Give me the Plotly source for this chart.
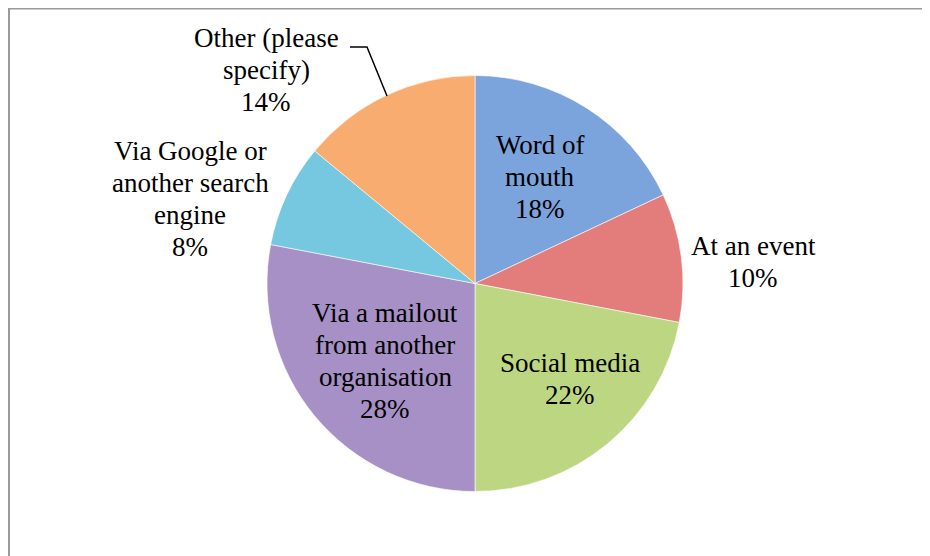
import plotly.graph_objects as go

labels = ["Word of mouth", "At an event", "Social media",
          "Via a mailout from another organisation",
          "Via Google or another search engine", "Other (please specify)"]
values = [18, 10, 22, 28, 8, 14]
colors = ["#7ba3dc", "#e27d7b", "#bdd681", "#a690c5", "#76c7e0", "#f9ac70"]

# label text as wrapped in the original chart
label_lines = [
    ["Word of", "mouth"],
    ["At an event"],
    ["Social media"],
    ["Via a mailout", "from another", "organisation"],
    ["Via Google or", "another search", "engine"],
    ["Other (please", "specify)"],
]
# label centres in screen pixels (x, y of the first line)
label_pos = [(540, 145), (753, 246), (570, 363), (385, 313), (190, 151), (266, 38)]

OFF = 8  # page body margin
W, H = 930 - OFF, 556 - OFF
cx, cy, r = 475, 283.5, 208


def px(x):
    return (x - OFF) / W


def py(y):
    return 1 - (y - OFF) / H


fig = go.Figure(go.Pie(
    labels=labels, values=values, sort=False, direction="clockwise", rotation=0,
    marker=dict(colors=colors, line=dict(color="white", width=0.6)),
    textinfo="none", hoverinfo="label+percent", showlegend=False,
    domain=dict(x=[px(cx - r), px(cx + r)], y=[py(cy + r), py(cy - r)]),
))

line_h = 32
for lines, v, (x0, y0) in zip(label_lines, values, label_pos):
    for i, t in enumerate(lines + [f"{v}%"]):
        fig.add_annotation(x=px(x0), y=py(y0 + i * line_h), xref="paper", yref="paper",
                           text=t, showarrow=False, xanchor="center", yanchor="middle",
                           font=dict(family="Liberation Serif", size=27, color="black"))

# leader line for "Other"
pts = [(350, 47), (367, 47), (387, 96)]
path = "M " + " L ".join(f"{px(x)},{py(y)}" for x, y in pts)
fig.add_shape(type="path", path=path, xref="paper", yref="paper",
              line=dict(color="black", width=1.5))

# chart frame
fig.add_shape(type="rect", xref="paper", yref="paper",
              x0=1 / W, y0=-0.05, x1=1.05, y1=1 - 0.5 / H,
              line=dict(color="#9a9a9a", width=2))

fig.update_layout(width=W, height=H, margin=dict(l=0, r=0, t=0, b=0),
                  paper_bgcolor="white", plot_bgcolor="white")
fig.write_html("out.html")
